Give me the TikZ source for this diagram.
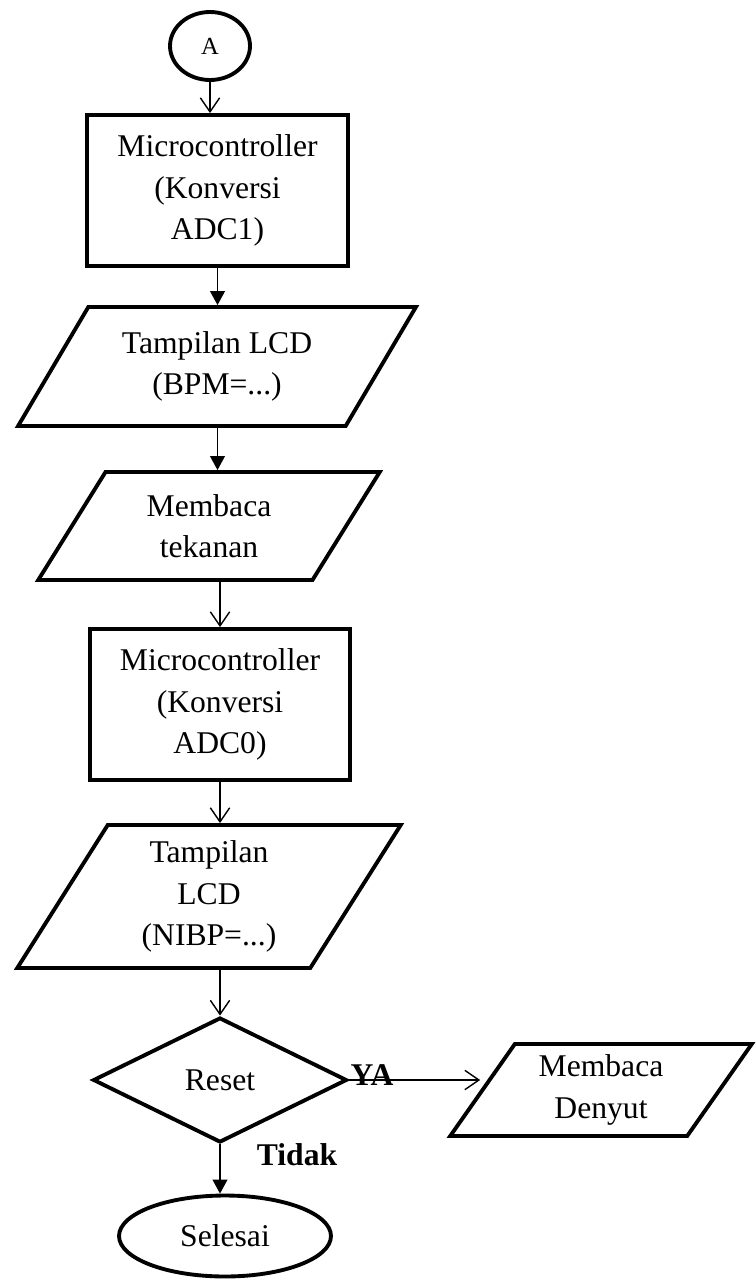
\documentclass[tikz,border=0pt]{standalone}
\usepackage{fontspec}
\setmainfont{Liberation Serif}
\usetikzlibrary{arrows.meta,shapes.geometric,positioning}

\begin{document}
\begin{tikzpicture}[x=0.02cm,y=-0.02cm,
    >={Triangle[length=8pt,width=8.5pt]},
    opn/.style={-{Straight Barb[length=8pt,width=11pt]}},
    base/.style={draw,line width=2.2pt,align=center,font=\fontsize{18}{23.5}\selectfont},
    term/.style={base,ellipse},
    proc/.style={base,rectangle,minimum width=5.21cm,minimum height=3.02cm},
    io/.style={base,trapezium,trapezium left angle=#1,trapezium right angle=180-#1,
        trapezium stretches=true},
    dec/.style={base,diamond,minimum width=5.08cm,minimum height=2.5cm},
    lbl/.style={font=\fontsize{18}{23.5}\selectfont\bfseries}]
    \useasboundingbox (0,0) rectangle (756,1281);

    \node[term,minimum width=1.6cm,minimum height=1.36cm,
        font=\fontsize{14}{16}\selectfont] (a) at (210,46) {A};

    \node[proc] (mc1) at (217.5,190.5) {Microcontroller\\(Konversi\\ADC1)};

    \node[io=56,minimum width=7.98cm,minimum height=2.38cm] (lcd1) at (217,366.5)
        {Tampilan LCD\\(BPM=...)};

    \node[io=59.5,minimum width=6.84cm,minimum height=2.16cm] (baca) at (209,526)
        {Membaca\\tekanan};

    \node[proc,minimum width=5.2cm] (mc0) at (220,704.5) {Microcontroller\\(Konversi\\ADC0)};

    \node[io=62,minimum width=7.68cm,minimum height=2.86cm] (lcd0) at (209,896.5)
        {Tampilan\\LCD\\(NIBP=...)};

    \node[dec] (reset) at (220,1080) {Reset};

    \node[io=58,minimum width=6.04cm,minimum height=1.84cm] (denyut) at (601,1090)
        {Membaca\\Denyut};

    \node[term,minimum width=4.24cm,minimum height=1.62cm] (end) at (225,1236) {Selesai};

    \draw[line width=0.8pt,opn] (a.south) -- (a.south |- mc1.north);
    \draw[line width=0.8pt,->] (mc1.south) -- (mc1.south |- lcd1.north);
    \draw[line width=0.8pt,->] (mc1.south |- lcd1.south) -- (mc1.south |- baca.north);
    \draw[line width=0.8pt,opn] (mc0.north |- baca.south) -- (mc0.north);
    \draw[line width=0.8pt,opn] (mc0.south) -- (mc0.south |- lcd0.north);
    \draw[line width=0.8pt,opn] (reset.north |- lcd0.south) -- (reset.north);
    \draw[line width=0.8pt,opn] (reset.east) -- (reset.east -| denyut.west);
    \draw[line width=0.8pt,->] (reset.south) -- (reset.south |- end.north);

    \node[lbl] (ya) at (372,1075) {YA};
    \node[lbl] (tidak) at (297,1155) {Tidak};
\end{tikzpicture}
\end{document}
